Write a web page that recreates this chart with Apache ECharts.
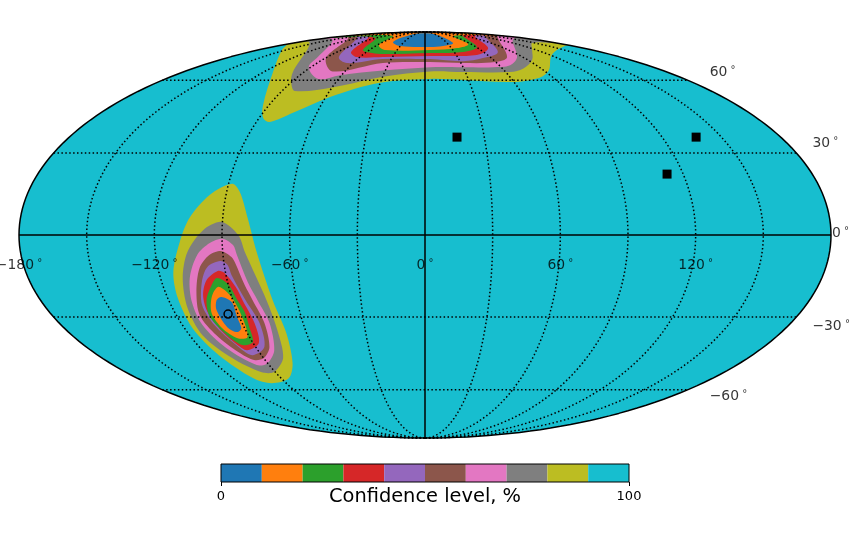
<!DOCTYPE html>
<html>
<head>
<meta charset="utf-8">
<style>
  html, body { margin: 0; padding: 0; background: #fff; }
  #chart { width: 850px; height: 540px; }
</style>
<script src="https://cdn.jsdelivr.net/npm/echarts@6/dist/echarts.min.js"></script>
</head>
<body>
<div id="chart"></div>
<script>
// confidence level colours, lowest band first
const levelColors = ['#1f77b4', '#ff7f0e', '#2ca02c', '#d62728', '#9467bd', '#8c564b', '#e377c2', '#7f7f7f', '#bcbd22', '#17becf'];
const colorbarEdges = [0, 10, 20, 30, 40, 50, 60, 70, 80, 90, 100];

// sources, [lon, lat] in degrees
const squareSources = [[16.2, 36.1], [137.2, 36.1], [112.5, 22.1]];
const circleSources = [[-94.8, -28.9]];

const meridians = [-150, -120, -90, -60, -30, 30, 60, 90, 120, 150];
const parallels = [-60, -30, 30, 60];
const lonTicks = [-180, -120, -60, 0, 60, 120];
const latTicks = [60, 30, 0, -30, -60];

// southern region, closed contours [lon, lat]
const southOlive = [[-88.4, 18.5], [-84, 15.5], [-78.9, 6.1], [-74.9, -6.1], [-71.3, -23.7], [-70.2, -36.2], [-75.7, -48.3], [-85.3, -54.8], [-99.4, -57], [-107.4, -54.8], [-113.4, -45], [-116, -34.3], [-115.3, -22.9], [-113.5, -13.4], [-108.8, -2.5], [-104.8, 6.1], [-97.4, 14.4]];
const southGray = [[-90.3, 4.7], [-82.8, 0], [-80, -6.5], [-74.2, -23.7], [-74.1, -35], [-79.1, -46.2], [-90.8, -52.1], [-98.6, -52.1], [-107.5, -46.2], [-113.4, -37], [-112.8, -26.6], [-109.9, -15.5], [-105.7, -6.1], [-98.3, 1.8]];
const southPink = [[-89.5, -1.4], [-85.2, -3.6], [-83.8, -7.2], [-80.8, -17], [-78.4, -23.7], [-76.5, -32.3], [-81.2, -43], [-90, -48.3], [-97.1, -49.1], [-106.1, -42.1], [-110.1, -33.1], [-109.5, -24.4], [-106.7, -15.5], [-101.5, -7.2], [-95.5, -2.9]];
const southBrown = [[-90.5, -5.8], [-86.3, -7.9], [-85, -10], [-82.5, -18.1], [-80.7, -23.7], [-79, -32.3], [-82.7, -41.7], [-89.8, -46.2], [-96.2, -47], [-101.2, -43.8], [-106.3, -37], [-108.7, -29.3], [-105.6, -20.7], [-101.3, -11.9], [-96.1, -7.2]];
const southPurple = [[-91.6, -9.4], [-88.5, -10.8], [-87.5, -14.4], [-84, -23.7], [-81.4, -32.3], [-85.4, -41.7], [-95.1, -45], [-99.6, -40.9], [-104.2, -33.1], [-105.3, -25.5], [-101.7, -17], [-97.7, -11.5]];
const southRed = [[-93.4, -13], [-90.5, -13.7], [-86.8, -18.8], [-85.4, -23.7], [-83.9, -32.3], [-87, -40.1], [-95.8, -43], [-98.9, -40.9], [-102.2, -35.8], [-104.2, -28.2], [-103, -21.8], [-99.2, -16.2]];
const southGreen = [[-94.4, -15.5], [-90, -17.7], [-87.8, -23.7], [-86.4, -28.1], [-87.4, -33.9], [-89.8, -39.7], [-96.3, -40.9], [-100.8, -37], [-104.2, -30], [-102.3, -23.7], [-97.6, -18.1]];
const southOrange = [[-95, -18.8], [-91.5, -20.7], [-89.2, -24.8], [-88.8, -32.3], [-91.1, -37.8], [-96.5, -38.2], [-101.2, -34.3], [-102.5, -28.6], [-99.3, -22.5]];
const southBlue = [[-94.8, -22.5], [-90.8, -24.4], [-91.1, -30], [-91.7, -34.3], [-94.8, -35.8], [-98.4, -33.9], [-99.5, -27.4], [-97.6, -23.7]];

// northern region, open contours running west to east, closed along the map edge
const northOlive = [[-179, 79.3], [-154, 75.6], [-113, 63.9], [-93.5, 49.1], [-87.8, 43.7], [-82.8, 42.1], [-73.3, 45.8], [-57.4, 52.5], [-30.1, 58.8], [3.5, 60.6], [26.1, 60.1], [59.4, 59.2], [80.4, 61.2], [93.5, 64.6], [121.8, 72.8], [170, 78.1]];
const northGray = [[-157, 80], [-98.2, 63.9], [-89.6, 58.8], [-81.8, 55.1], [-59.3, 56.8], [-29.7, 61.6], [3.8, 64.2], [28.3, 63.9], [63.2, 63.9], [76.4, 65.7], [93.6, 70], [115.2, 75.6], [146, 80]];
const northPink = [[-148, 82.2], [-98.7, 71.6], [-91.6, 66.3], [-74, 60.6], [-61.2, 62.4], [-31.9, 64.6], [4, 66.3], [30, 66.3], [53.7, 66.3], [68.9, 67.3], [84.8, 71.6], [149.9, 82.9]];
const northBrown = [[-141.4, 83.7], [-89.6, 71.1], [-69.2, 64.2], [-35.1, 68.4], [4.2, 68.9], [31.7, 68.4], [59.3, 68.9], [75.6, 71.6], [161.6, 85.3]];
const northPurple = [[-136.7, 84.5], [-79.3, 71.6], [-65.1, 68.4], [-37.4, 70.5], [4.5, 70.5], [32.7, 69.4], [52.5, 71.1], [74.8, 74.5], [155, 86.3]];
const northRed = [[-114.6, 84.5], [-75.8, 74.5], [-62.7, 71.6], [-38.7, 71.6], [4.7, 72.2], [49.9, 72.8], [71.8, 76.8], [112, 85.3]];
const northGreen = [[-91.9, 83.7], [-66.8, 75.6], [-53, 73.9], [-41.1, 73.3], [5, 73.9], [38.9, 74.5], [61.1, 77.5], [98.3, 86.3]];
const northOrange = [[-71.8, 85.3], [-57.9, 78.7], [-43.1, 75.6], [5.4, 75.6], [36.4, 76.8], [56.3, 79.3], [62.9, 85.3]];
const northBlue = [[-38.8, 86.3], [-45.8, 80.8], [-30.4, 78.1], [5.9, 77.5], [21.9, 78.1], [38.2, 80], [31.1, 86.3], [0, 88]];

const SQRT2 = Math.SQRT2;

const latToAux = lat => {
  const phi = lat * Math.PI / 180;
  if (Math.abs(lat) >= 90) return Math.sign(lat) * Math.PI / 2;
  let theta = phi;
  for (let i = 0; i < 60; i++) {
    const d = (2 * theta + Math.sin(2 * theta) - Math.PI * Math.sin(phi)) / (2 + 2 * Math.cos(2 * theta));
    theta -= d;
    if (Math.abs(d) < 1e-9) break;
  }
  return theta;
};

// mollweide: lon/lat in degrees to map plane
const project = (lon, lat) => {
  const theta = latToAux(lat);
  return [2 * SQRT2 / Math.PI * (lon * Math.PI / 180) * Math.cos(theta), SQRT2 * Math.sin(theta)];
};

const projectList = list => list.map(p => project(p[0], p[1]));

// walk along a meridian between two latitudes, evenly on the map
const edgeArc = (lon, fromLat, toLat) => {
  const out = [];
  const n = 120;
  const a = latToAux(fromLat);
  const b = latToAux(toLat);
  for (let i = 0; i <= n; i++) {
    const t = a + (b - a) * i / n;
    const s = Math.min(1, Math.max(-1, (2 * t + Math.sin(2 * t)) / Math.PI));
    out.push([lon, Math.asin(s) * 180 / Math.PI]);
  }
  return out;
};

const closeOverPole = list => {
  const first = list[0];
  const last = list[list.length - 1];
  return list.concat(edgeArc(180, last[1], 90), edgeArc(-180, 90, first[1]));
};

const ocean = edgeArc(180, -90, 90).concat(edgeArc(-180, 90, -90));

// drawn in order, each band on top of the one before it
const polygons = [];
const addPolygon = (list, band, smooth) => polygons.push({ points: projectList(list), color: levelColors[band], smooth: smooth });

addPolygon(ocean, 9, 0);
[northOlive, northGray, northPink, northBrown, northPurple, northRed, northGreen, northOrange].forEach((c, i) => addPolygon(closeOverPole(c), 8 - i, 0.35));
addPolygon(northBlue, 0, 0.35);
[southOlive, southGray, southPink, southBrown, southPurple, southRed, southGreen, southOrange, southBlue].forEach((c, i) => addPolygon(c, 8 - i, 0.3));

const lineOf = (data, width, dash, z) => ({
  type: 'line',
  xAxisIndex: 0,
  yAxisIndex: 0,
  data: data,
  showSymbol: false,
  symbol: 'none',
  silent: true,
  clip: false,
  z: z,
  lineStyle: { color: '#000', width: width, type: dash }
});

const dotted = [1.5, 2.4];
const gridSeries = [];
meridians.forEach(lon => gridSeries.push(lineOf(projectList(edgeArc(lon, -90, 90)), 1.5, dotted, 3)));
parallels.forEach(lat => gridSeries.push(lineOf(projectList([[-180, lat], [180, lat]]), 1.5, dotted, 3)));

const tickLabel = (value) => {
  const txt = value < 0 ? '\u2212' + Math.abs(value) : String(value);
  return '{n|' + txt + '}{d| \u00b0}';
};
const richText = {
  n: { fontFamily: 'DejaVu Sans', fontSize: 13.9, color: '#000' },
  d: { fontFamily: 'DejaVu Sans', fontSize: 10, color: '#000', verticalAlign: 'top', lineHeight: 12 }
};

const latOffsets = { '60': [22, -8], '30': [16, -10], '0': [1, -2], '-30': [16, 9], '-60': [22, 7] };

const option = {
  animation: false,
  backgroundColor: '#fff',
  grid: [
    { left: 19, top: 32, width: 812, height: 406 },
    { left: 221, top: 464, width: 408, height: 18 }
  ],
  xAxis: [
    { type: 'value', gridIndex: 0, min: -2 * SQRT2, max: 2 * SQRT2, show: false },
    {
      type: 'value',
      gridIndex: 1,
      min: 0,
      max: 100,
      interval: 100,
      splitLine: { show: false },
      axisLine: { show: false },
      axisTick: { show: true, length: 4, lineStyle: { color: '#000', width: 1 } },
      axisLabel: { color: '#000', fontFamily: 'DejaVu Sans', fontSize: 13, margin: 8 },
      name: 'Confidence level, %',
      nameLocation: 'middle',
      nameGap: 15,
      nameMoveOverlap: false,
      nameTextStyle: { color: '#000', fontFamily: 'DejaVu Sans', fontSize: 19.4, verticalAlign: 'middle' }
    }
  ],
  yAxis: [
    { type: 'value', gridIndex: 0, min: -SQRT2, max: SQRT2, show: false },
    { type: 'value', gridIndex: 1, min: 0, max: 1, show: false }
  ],
  series: [
    {
      type: 'custom',
      xAxisIndex: 0,
      yAxisIndex: 0,
      silent: true,
      z: 2,
      data: polygons.map((p, i) => [i, 0]),
      renderItem: (params, api) => {
        const poly = polygons[params.dataIndex];
        return {
          type: 'polygon',
          shape: { points: poly.points.map(p => api.coord(p)), smooth: poly.smooth },
          style: { fill: poly.color }
        };
      }
    },
    ...gridSeries,
    lineOf(projectList([[-180, 0], [180, 0]]), 1.5, 'solid', 4),
    lineOf(projectList([[0, -90], [0, 90]]), 1.5, 'solid', 4),
    lineOf(projectList(ocean), 1.5, 'solid', 5),
    {
      type: 'scatter',
      xAxisIndex: 0,
      yAxisIndex: 0,
      silent: true,
      z: 6,
      symbol: 'rect',
      symbolSize: 9,
      itemStyle: { color: '#000', opacity: 1 },
      data: projectList(squareSources)
    },
    {
      type: 'scatter',
      xAxisIndex: 0,
      yAxisIndex: 0,
      silent: true,
      z: 6,
      symbol: 'circle',
      symbolSize: 8,
      itemStyle: { color: 'transparent', borderColor: '#000', borderWidth: 1.5, opacity: 1 },
      data: projectList(circleSources)
    },
    {
      // longitude tick labels
      type: 'scatter',
      xAxisIndex: 0,
      yAxisIndex: 0,
      silent: true,
      z: 7,
      symbolSize: 0,
      data: lonTicks.map(v => ({ value: project(v, 0), tick: v })),
      label: {
        show: true,
        position: 'inside',
        offset: [0, 30],
        rich: richText,
        formatter: p => tickLabel(p.data.tick)
      }
    },
    {
      // latitude tick labels, hung on the right edge of the map
      type: 'scatter',
      xAxisIndex: 0,
      yAxisIndex: 0,
      silent: true,
      z: 7,
      symbolSize: 0,
      data: latTicks.map(v => ({
        value: project(180, v),
        tick: v,
        label: { offset: latOffsets[v] }
      })),
      label: {
        show: true,
        position: 'right',
        distance: 0,
        rich: richText,
        formatter: p => tickLabel(p.data.tick)
      }
    },
    {
      // colour bar
      type: 'custom',
      xAxisIndex: 1,
      yAxisIndex: 1,
      silent: true,
      z: 2,
      data: levelColors.map((c, i) => [colorbarEdges[i], colorbarEdges[i + 1]]),
      renderItem: (params, api) => {
        const a = api.coord([api.value(0), 0]);
        const b = api.coord([api.value(1), 1]);
        return {
          type: 'rect',
          shape: { x: a[0], y: b[1], width: b[0] - a[0], height: a[1] - b[1] },
          style: { fill: levelColors[params.dataIndex] }
        };
      }
    },
    {
      type: 'line',
      xAxisIndex: 1,
      yAxisIndex: 1,
      symbol: 'none',
      silent: true,
      clip: false,
      z: 3,
      data: [[0, 0], [100, 0], [100, 1], [0, 1], [0, 0]],
      lineStyle: { color: '#000', width: 1 }
    }
  ]
};

const myChart = echarts.init(document.getElementById('chart'), null, { renderer: 'canvas' });
myChart.setOption(option);
</script>
</body>
</html>
